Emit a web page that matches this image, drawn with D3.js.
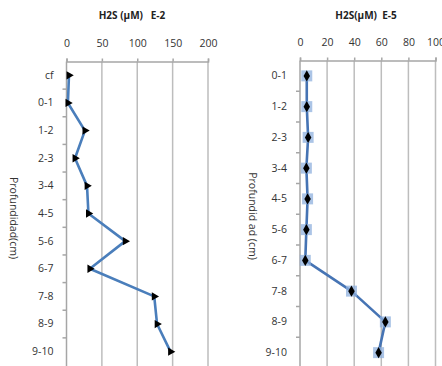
<!DOCTYPE html>
<html>
<head>
<meta charset="utf-8">
<script src="https://cdn.jsdelivr.net/npm/d3@7"></script>
<style>
  html, body { margin: 0; padding: 0; background: #fff; }
  svg { display: block; font-family: "Open Sans", "Liberation Sans", sans-serif; }
</style>
</head>
<body>
<svg id="chart" width="442" height="366"></svg>
<script>
// ---- Data ----
const catsE2 = ["cf", "0-1", "1-2", "2-3", "3-4", "4-5", "5-6", "6-7", "7-8", "8-9", "9-10"];
const valsE2 = [3.5, 2, 26, 12, 29, 31, 83, 33, 124, 128, 147];
const ticksE2 = [0, 50, 100, 150, 200];

const catsE5 = ["0-1", "1-2", "2-3", "3-4", "4-5", "5-6", "6-7", "7-8", "8-9", "9-10"];
const valsE5 = [5, 5, 6, 4.7, 5.6, 4.7, 3.9, 38, 63, 58];
const ticksE5 = [0, 20, 40, 60, 80, 100];

const svg = d3.select("#chart");

function panel(cfg) {
  const g = svg.append("g");
  const x = d3.scaleLinear().domain([0, d3.max(cfg.ticks)]).range([cfg.x0, cfg.x1]);
  const y = d3.scaleBand().domain(cfg.cats).range([cfg.y0, cfg.y1]).padding(0);
  const yc = c => y(c) + y.bandwidth() / 2;

  // gridlines
  g.append("g").selectAll("line").data(cfg.ticks.filter(t => t > 0)).join("line")
    .attr("x1", d => x(d)).attr("x2", d => x(d))
    .attr("y1", cfg.y0).attr("y2", 366)
    .attr("stroke", "#bdbdbd").attr("stroke-width", 1.5);

  // top axis
  const ax = g.append("g").attr("transform", `translate(0,${cfg.y0})`)
    .call(d3.axisTop(x).tickValues(cfg.ticks).tickSize(3).tickSizeOuter(3).tickPadding(12));
  ax.selectAll("path,line").attr("stroke", "#a6a6a6").attr("stroke-width", 1.5);
  ax.selectAll("text").attr("fill", "#333").style("font-size", "10.5px")
    .style("font-family", "'Open Sans', sans-serif");

  // left axis labels
  const ay = g.append("g").attr("transform", `translate(${cfg.x0},0)`)
    .call(d3.axisLeft(y).tickSize(0).tickPadding(13));
  ay.select(".domain").remove();
  ay.selectAll("text").attr("fill", "#333").style("font-size", "10.5px")
    .style("font-family", "'Open Sans', sans-serif");

  // vertical axis line
  g.append("line").attr("x1", cfg.x0).attr("x2", cfg.x0)
    .attr("y1", cfg.y0).attr("y2", 366)
    .attr("stroke", "#a6a6a6").attr("stroke-width", 1.5);
  // boundary ticks
  const bounds = cfg.cats.map(c => y(c)).slice(1);
  g.append("g").selectAll("line").data(bounds).join("line")
    .attr("x1", cfg.x0 - 4).attr("x2", cfg.x0)
    .attr("y1", d => d).attr("y2", d => d)
    .attr("stroke", "#a6a6a6").attr("stroke-width", 1.5);

  // title
  g.append("text").attr("x", cfg.titleX).attr("y", 19).attr("text-anchor", "middle")
    .attr("fill", "#222").style("font-size", "10px").style("font-weight", "bold")
    .attr("xml:space", "preserve").text(cfg.title);

  // y title
  g.append("text").attr("transform", `translate(${cfg.ytX},${cfg.ytY}) rotate(90)`)
    .attr("text-anchor", "middle").attr("dominant-baseline", "middle")
    .attr("fill", "#333").style("font-size", "10.5px")
    .attr("xml:space", "preserve").text(cfg.ytitle);

  // line
  const pts = cfg.cats.map((c, i) => [x(cfg.vals[i]), yc(c)]);
  g.append("path").attr("d", d3.line()(pts)).attr("fill", "none")
    .attr("stroke", cfg.lineColor).attr("stroke-width", 2.6).attr("stroke-linejoin", "round");

  // markers
  if (cfg.marker === "triangle") {
    g.append("g").selectAll("path").data(pts).join("path")
      .attr("d", d3.symbol(d3.symbolTriangle, 30)())
      .attr("transform", d => `translate(${d[0]},${d[1]}) rotate(90)`)
      .attr("fill", "#000");
  } else {
    g.append("g").selectAll("rect").data(pts).join("rect")
      .attr("x", d => d[0] - 5.5).attr("y", d => d[1] - 5.5)
      .attr("width", 11).attr("height", 11)
      .attr("fill", "#8fb0dd").attr("opacity", 0.75);
    g.append("g").selectAll("path").data(pts).join("path")
      .attr("d", d3.symbol(d3.symbolDiamond, 36)())
      .attr("transform", d => `translate(${d[0]},${d[1]})`)
      .attr("fill", "#000");
  }
}

panel({
  cats: catsE2, vals: valsE2, ticks: ticksE2,
  x0: 66.5, x1: 208, y0: 61.5, y1: 365.5,
  title: "H2S (µM)   E-2", titleX: 132,
  ytitle: "Profundidad(cm)", ytX: 13, ytY: 218,
  lineColor: "#4a7ebb", marker: "triangle"
});

panel({
  cats: catsE5, vals: valsE5, ticks: ticksE5,
  x0: 300, x1: 435.5, y0: 60.5, y1: 368,
  title: "H2S(µM)  E-5", titleX: 366,
  ytitle: "Profundid ad (cm)", ytX: 252, ytY: 216,
  lineColor: "#4674b4", marker: "diamond"
});
</script>
</body>
</html>
